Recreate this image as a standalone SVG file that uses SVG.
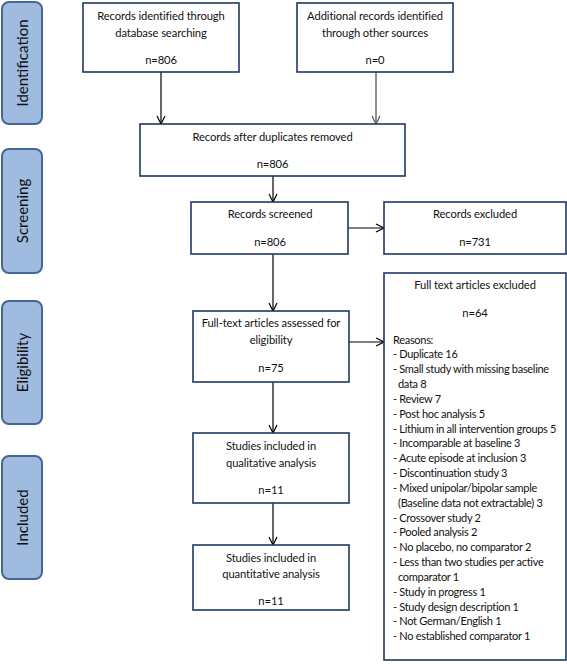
<svg xmlns="http://www.w3.org/2000/svg" width="567" height="664" viewBox="0 0 567 664">
<defs>
<marker id="arr" viewBox="0 0 10 10" refX="9" refY="5" markerWidth="10" markerHeight="10" markerUnits="userSpaceOnUse" orient="auto">
<path d="M1,1 L9,5 L1,9" fill="none" stroke="#000" stroke-width="1.2"/>
</marker>
<marker id="arrg" viewBox="0 0 10 10" refX="9" refY="5" markerWidth="10" markerHeight="10" markerUnits="userSpaceOnUse" orient="auto">
<path d="M1,1 L9,5 L1,9" fill="none" stroke="#555" stroke-width="1.2"/>
</marker>
</defs>
<style>
.box{fill:#fff;stroke:#1f3864;stroke-width:1.6}
.phase{fill:#9fbbdf;stroke:#436895;stroke-width:2}
.t{font-family:Lato,"Liberation Sans",sans-serif;font-size:11.2px;letter-spacing:-0.1px;fill:#111;text-anchor:middle}
.l{font-family:Lato,"Liberation Sans",sans-serif;font-size:11px;letter-spacing:-0.3px;fill:#111}
.p{font-family:Lato,"Liberation Sans",sans-serif;font-size:15px;fill:#111;text-anchor:middle}
.c{stroke:#000;stroke-width:1.2;fill:none;marker-end:url(#arr)}
.cg{stroke:#777;stroke-width:1.6;fill:none;marker-end:url(#arrg)}
</style>
<rect width="567" height="664" fill="#fff"/>
<g id="phase-identification"><rect class="phase" x="2" y="2" width="40" height="122" rx="7"/><text class="p" transform="translate(27.5,63) rotate(-90)">Identification</text></g>
<g id="phase-screening"><rect class="phase" x="2" y="149" width="40" height="124" rx="7"/><text class="p" transform="translate(27.5,211) rotate(-90)">Screening</text></g>
<g id="phase-eligibility"><rect class="phase" x="2" y="301" width="40" height="123" rx="7"/><text class="p" transform="translate(27.5,362.5) rotate(-90)">Eligibility</text></g>
<g id="phase-included"><rect class="phase" x="2" y="456" width="40" height="123" rx="7"/><text class="p" transform="translate(27.5,517.5) rotate(-90)">Included</text></g>

<g id="connectors">
<line class="c" x1="161" y1="72" x2="161" y2="124"/>
<line class="cg" x1="376" y1="72" x2="376" y2="124"/>
<line class="c" x1="273" y1="176" x2="273" y2="202"/>
<line class="c" x1="348" y1="228" x2="384" y2="228"/>
<line class="c" x1="273" y1="254" x2="273" y2="311"/>
<line class="c" x1="349" y1="342" x2="384" y2="342"/>
<line class="c" x1="273" y1="382" x2="273" y2="433"/>
<line class="c" x1="273" y1="503" x2="273" y2="545"/>
</g>

<g id="n1"><rect class="box" x="83" y="3" width="156" height="69"/>
<text class="t" x="161" y="20">Records identified through</text>
<text class="t" x="161" y="37">database searching</text>
<text class="t" x="161" y="64">n=806</text></g>
<g id="n2"><rect class="box" x="297" y="3" width="156" height="69"/>
<text class="t" x="375" y="20">Additional records identified</text>
<text class="t" x="375" y="37">through other sources</text>
<text class="t" x="375" y="64">n=0</text></g>
<g id="n3"><rect class="box" x="140" y="124" width="265" height="52"/>
<text class="t" x="272.5" y="141">Records after duplicates removed</text>
<text class="t" x="272.5" y="168">n=806</text></g>
<g id="n4"><rect class="box" x="191" y="202" width="157" height="52"/>
<text class="t" x="270" y="218">Records screened</text>
<text class="t" x="270" y="246">n=806</text></g>
<g id="n5"><rect class="box" x="384" y="202" width="182" height="52"/>
<text class="t" x="475" y="218">Records excluded</text>
<text class="t" x="475" y="246">n=731</text></g>
<g id="n6"><rect class="box" x="193" y="311" width="156" height="71"/>
<text class="t" x="271" y="327">Full-text articles assessed for</text>
<text class="t" x="271" y="344">eligibility</text>
<text class="t" x="271" y="372">n=75</text></g>
<g id="n7"><rect class="box" x="384" y="273" width="182" height="387"/>
<text class="t" x="475" y="289">Full text articles excluded</text>
<text class="t" x="475" y="317">n=64</text>
<text class="l" x="393" y="344">Reasons:</text>
<text class="l" x="393" y="358">- Duplicate 16</text>
<text class="l" x="393" y="373">- Small study with missing baseline</text>
<text class="l" x="398" y="388">data 8</text>
<text class="l" x="393" y="403">- Review 7</text>
<text class="l" x="393" y="418">- Post hoc analysis 5</text>
<text class="l" x="393" y="433">- Lithium in all intervention groups 5</text>
<text class="l" x="393" y="447">- Incomparable at baseline 3</text>
<text class="l" x="393" y="462">- Acute episode at inclusion 3</text>
<text class="l" x="393" y="477">- Discontinuation study 3</text>
<text class="l" x="393" y="492">- Mixed unipolar/bipolar sample</text>
<text class="l" x="398" y="507">(Baseline data not extractable) 3</text>
<text class="l" x="393" y="522">- Crossover study 2</text>
<text class="l" x="393" y="536">- Pooled analysis 2</text>
<text class="l" x="393" y="551">- No placebo, no comparator 2</text>
<text class="l" x="393" y="566">- Less than two studies per active</text>
<text class="l" x="398" y="581">comparator 1</text>
<text class="l" x="393" y="596">- Study in progress 1</text>
<text class="l" x="393" y="611">- Study design description 1</text>
<text class="l" x="393" y="625">- Not German/English 1</text>
<text class="l" x="393" y="640">- No established comparator 1</text></g>
<g id="n8"><rect class="box" x="193" y="433" width="156" height="70"/>
<text class="t" x="271" y="450">Studies included in</text>
<text class="t" x="271" y="467">qualitative analysis</text>
<text class="t" x="271" y="494">n=11</text></g>
<g id="n9"><rect class="box" x="193" y="545" width="156" height="65"/>
<text class="t" x="271" y="562">Studies included in</text>
<text class="t" x="271" y="578">quantitative analysis</text>
<text class="t" x="271" y="605">n=11</text></g>
</svg>
